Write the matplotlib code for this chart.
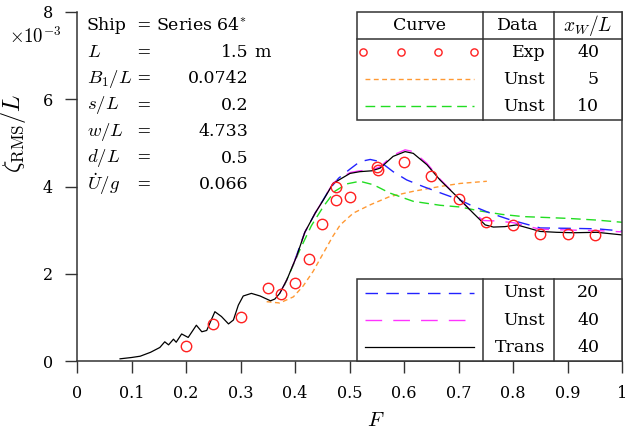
import matplotlib
matplotlib.use("Agg")
import matplotlib.pyplot as plt
from matplotlib.patches import Rectangle

plt.rcParams['font.family'] = 'DejaVu Serif'
plt.rcParams['mathtext.fontset'] = 'cm'

# experimental points (Exp, x_W/L = 40), values in units of 1e-3
exp_F = [0.2, 0.25, 0.3, 0.35, 0.375, 0.4, 0.425, 0.45, 0.475, 0.475, 0.5,
         0.55, 0.552, 0.6, 0.65, 0.7, 0.75, 0.8, 0.85, 0.9, 0.95]
exp_z = [0.34, 0.84, 1.02, 1.67, 1.54, 1.78, 2.33, 3.13, 4.0, 3.68, 3.76,
         4.44, 4.38, 4.57, 4.25, 3.71, 3.18, 3.12, 2.92, 2.90, 2.88]

# Unst, x_W/L = 5
u5_F = [0.348, 0.372, 0.397, 0.415, 0.433, 0.451, 0.469, 0.483, 0.507, 0.538,
        0.574, 0.617, 0.666, 0.703, 0.752]
u5_z = [1.36, 1.33, 1.47, 1.72, 2.05, 2.45, 2.85, 3.12, 3.39, 3.58,
        3.77, 3.89, 4.00, 4.07, 4.12]

# Unst, x_W/L = 10
u10_F = [0.38, 0.409, 0.43, 0.452, 0.473, 0.495, 0.519, 0.544, 0.574, 0.617,
         0.666, 0.703, 0.739, 0.780, 0.819, 0.860, 0.899, 0.954, 1.0]
u10_z = [1.72, 2.55, 3.10, 3.54, 3.89, 4.06, 4.12, 4.04, 3.85, 3.66,
         3.57, 3.53, 3.44, 3.36, 3.31, 3.29, 3.27, 3.23, 3.18]

# Unst, x_W/L = 20
u20_F = [0.40, 0.418, 0.437, 0.452, 0.464, 0.480, 0.501, 0.519, 0.538, 0.556,
         0.580, 0.605, 0.635, 0.672, 0.703, 0.721, 0.758, 0.794, 0.850, 0.911,
         0.954, 1.0]
u20_z = [2.32, 2.95, 3.39, 3.70, 3.95, 4.19, 4.40, 4.57, 4.62, 4.57,
         4.34, 4.15, 4.00, 3.83, 3.69, 3.58, 3.39, 3.24, 3.05, 3.04,
         3.03, 2.98]

# Unst, x_W/L = 40
u40_F = [0.372, 0.385, 0.403, 0.418, 0.437, 0.452, 0.470, 0.486, 0.501, 0.519,
         0.541, 0.556, 0.580, 0.602, 0.617, 0.642, 0.666, 0.703, 0.727, 0.746,
         0.770, 0.801, 0.830, 0.850, 0.911, 0.954, 1.0]
u40_z = [1.55, 1.86, 2.40, 2.95, 3.39, 3.70, 4.08, 4.21, 4.32, 4.36,
         4.38, 4.45, 4.72, 4.84, 4.80, 4.53, 4.17, 3.70, 3.39, 3.22,
         3.21, 3.17, 3.08, 3.02, 3.00, 2.99, 2.96]

# Trans, x_W/L = 40
tr_F = [0.079, 0.10, 0.116, 0.135, 0.152, 0.161, 0.168, 0.177, 0.182, 0.192,
        0.204, 0.219, 0.229, 0.238, 0.253, 0.265, 0.278, 0.287, 0.296, 0.305,
        0.320, 0.336, 0.355, 0.363, 0.372, 0.385, 0.403, 0.418, 0.437, 0.452,
        0.470, 0.486, 0.501, 0.519, 0.541, 0.556, 0.580, 0.602, 0.617, 0.642,
        0.666, 0.697, 0.727, 0.749, 0.764, 0.785, 0.807, 0.830, 0.850, 0.880,
        0.911, 0.954, 1.0]
tr_z = [0.05, 0.08, 0.11, 0.20, 0.31, 0.44, 0.37, 0.50, 0.43, 0.62,
        0.54, 0.82, 0.67, 0.70, 1.13, 1.02, 0.85, 0.94, 1.28, 1.49,
        1.55, 1.49, 1.38, 1.42, 1.55, 1.86, 2.40, 2.95, 3.39, 3.69,
        4.07, 4.19, 4.30, 4.34, 4.36, 4.42, 4.69, 4.80, 4.76, 4.50,
        4.15, 3.77, 3.39, 3.12, 3.07, 3.08, 3.12, 3.04, 2.97, 2.95,
        2.94, 2.95, 2.89]

params = [(r'Ship', 'Series 64$^{*}$'), (r'$L$', '1.5'), (r'$B_1/L$', '0.0742'),
          (r'$s/L$', '0.2'), (r'$w/L$', '4.733'), (r'$d/L$', '0.5'),
          (r'$\dot{U}/g$', '0.066')]

top_rows = [('Exp', '40'), ('Unst', '5'), ('Unst', '10')]
bot_rows = [('Unst', '20'), ('Unst', '40'), ('Trans', '40')]

c_exp = '#ff2020'
c5, c10, c20, c40, ctr = '#ff9933', '#22dd22', '#2222ff', '#ff33ff', 'black'
st5 = dict(color=c5, lw=1.0, dashes=(3.5, 2.5))
st10 = dict(color=c10, lw=1.0, dashes=(7, 4))
st20 = dict(color=c20, lw=1.0, dashes=(9, 6))
st40 = dict(color=c40, lw=1.0, dashes=(12, 8))
sttr = dict(color=ctr, lw=0.9)

fig = plt.figure(figsize=(6.28, 4.37), dpi=100)
ax = fig.add_axes([77 / 628, 76 / 437, 545 / 628, 349 / 437])

ax.plot(u5_F, u5_z, **st5)
ax.plot(u10_F, u10_z, **st10)
ax.plot(u20_F, u20_z, **st20)
ax.plot(u40_F, u40_z, **st40)
ax.plot(tr_F, tr_z, **sttr)
ax.plot(exp_F, exp_z, 'o', mfc='none', mec=c_exp, mew=1.0, ms=7.5)

ax.set_xlim(0, 1)
ax.set_ylim(0, 8)
ax.set_xticks([0, 0.1, 0.2, 0.3, 0.4, 0.5, 0.6, 0.7, 0.8, 0.9, 1])
ax.set_xticklabels(['0', '0.1', '0.2', '0.3', '0.4', '0.5', '0.6', '0.7', '0.8', '0.9', '1'])
ax.set_yticks([0, 2, 4, 6, 8])
ax.tick_params(direction='out', length=8.5, width=1, labelsize=11.5, pad=9, color='#333333')
ax.spines['top'].set_visible(False)
for s in ['left', 'bottom', 'right']:
    ax.spines[s].set_linewidth(1.1)
    ax.spines[s].set_color('#333333')

ax.set_xlabel(r'$F$', fontsize=15)
ax.xaxis.set_label_coords(0.549, -0.143)
ax.set_ylabel(r'$\zeta_{\mathrm{RMS}}/L$', fontsize=17.5)
ax.yaxis.set_label_coords(-0.09, 0.653)
ax.text(-0.028, 0.93, r'$\times10^{-3}$', transform=ax.transAxes, ha='right',
        va='center', fontsize=13.5)

# parameter block
fs = 12.5
fm = 13.5
for i, (lab, val) in enumerate(params):
    y = 0.96 - i * 0.0757
    ax.text(0.018, y, lab, transform=ax.transAxes, va='center',
            fontsize=fs if i == 0 else fm)
    if i == 0:
        ax.text(0.108, y, '= ' + val, transform=ax.transAxes, va='center', fontsize=fs)
    else:
        ax.text(0.108, y, '=', transform=ax.transAxes, va='center', fontsize=fs)
        ax.text(0.314, y, val, transform=ax.transAxes, va='center', ha='right', fontsize=fs)
ax.text(0.326, 0.96 - 0.0757, 'm', transform=ax.transAxes, va='center', fontsize=fs)


def table(y0, y1, rows, styles, header=False):
    kw = dict(transform=ax.transAxes, clip_on=False, color='#333333', lw=1.1)
    x0, xa, xb, x1 = 0.514, 0.7455, 0.8758, 1.0
    ax.add_patch(Rectangle((x0, y0), x1 - x0, y1 - y0, transform=ax.transAxes,
                           fc='white', ec='#333333', lw=1.1, zorder=3, clip_on=False))
    for xv in (xa, xb):
        ax.plot([xv, xv], [y0, y1], zorder=4, **kw)
    top = y1
    if header:
        hy = y1 - 0.076
        ax.plot([x0, x1], [hy, hy], zorder=4, **kw)
        ax.text(0.628, (y1 + hy) / 2, 'Curve', transform=ax.transAxes, ha='center',
                va='center', fontsize=fs, zorder=5)
        ax.text(0.809, (y1 + hy) / 2, 'Data', transform=ax.transAxes, ha='center',
                va='center', fontsize=fs, zorder=5)
        ax.text(0.937, (y1 + hy) / 2, r'$x_W/L$', transform=ax.transAxes, ha='center',
                va='center', fontsize=14, zorder=5)
        top = hy
    n = len(rows)
    h = (top - y0) / n
    for i, ((d, xw), st) in enumerate(zip(rows, styles)):
        yc = top - h * (i + 0.5)
        if st is None:
            ax.plot([0.525, 0.594, 0.662, 0.728], [yc] * 4, 'o', mfc='none', mec=c_exp,
                    mew=1.0, ms=5.2, transform=ax.transAxes, clip_on=False, zorder=5)
        else:
            ax.plot([0.528, 0.728], [yc, yc], transform=ax.transAxes, clip_on=False,
                    zorder=5, **st)
        ax.text(0.859, yc, d, transform=ax.transAxes, ha='right', va='center',
                fontsize=fs, zorder=5)
        ax.text(0.958, yc, xw, transform=ax.transAxes, ha='right', va='center',
                fontsize=fs, zorder=5)


table(0.6905, 1.0, top_rows, [None, st5, st10], header=True)
table(0.0, 0.234, bot_rows, [st20, st40, sttr])

fig.savefig('out.png', dpi=100)
